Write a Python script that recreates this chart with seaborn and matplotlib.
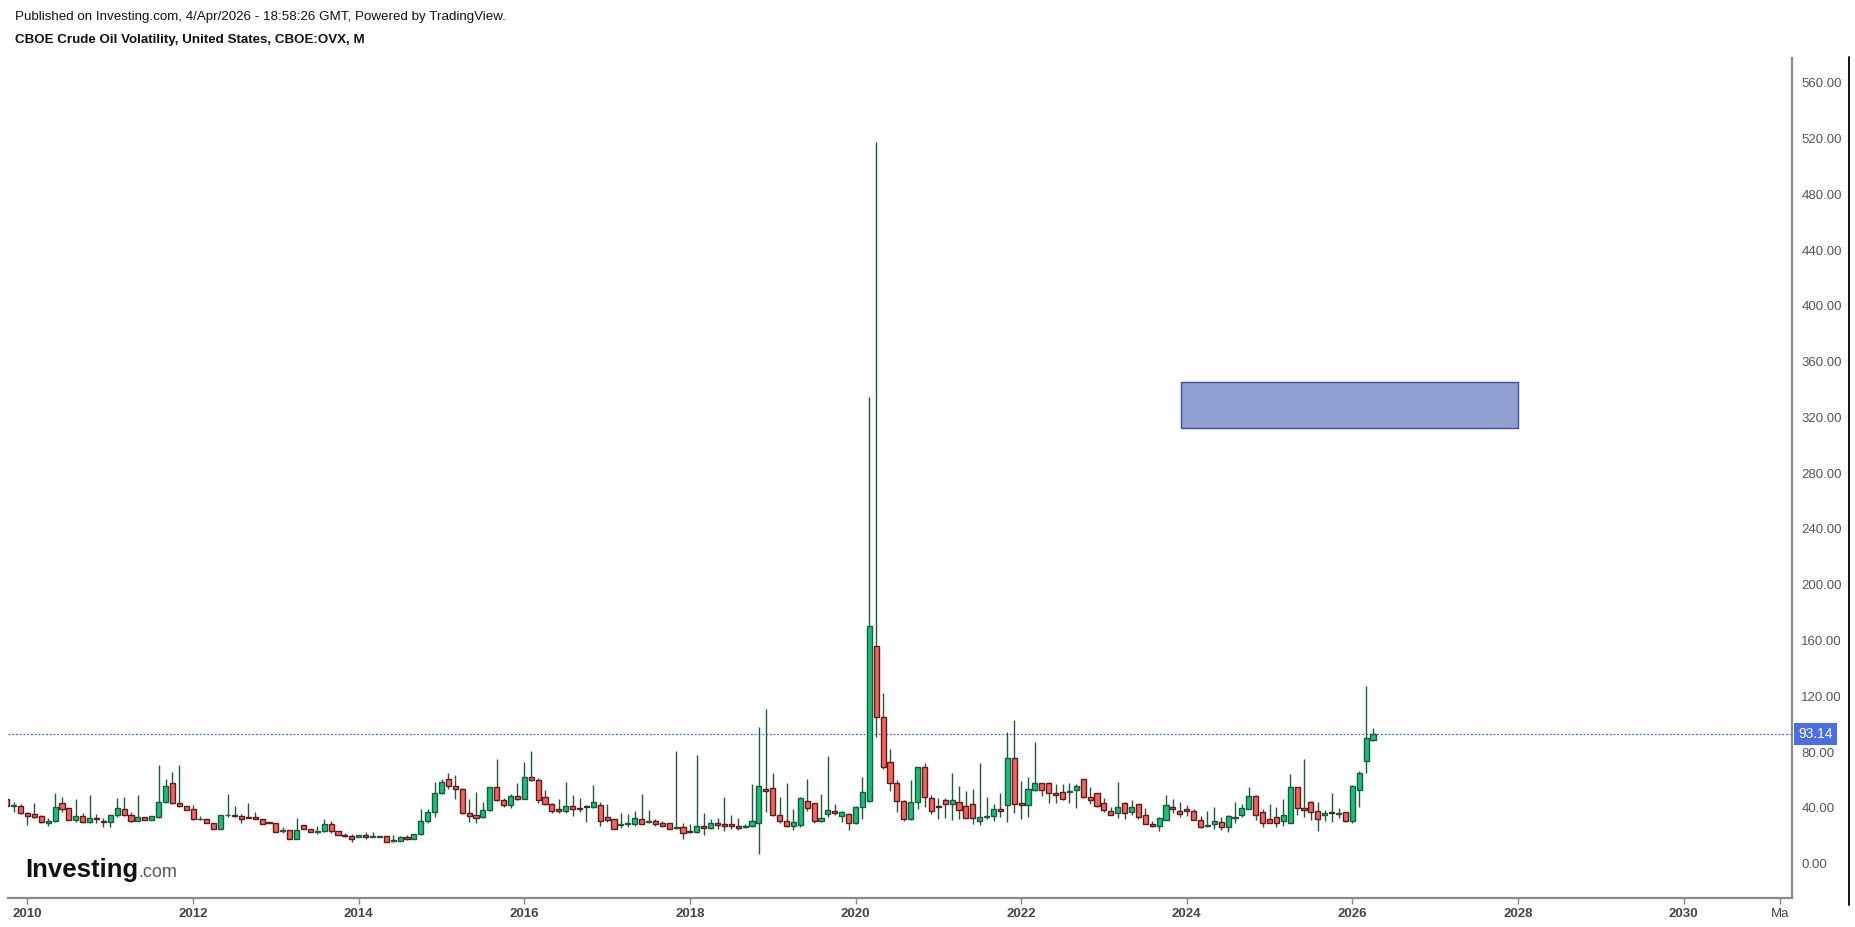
import numpy as np
import pandas as pd
import matplotlib
matplotlib.use("Agg")
import matplotlib.pyplot as plt
import seaborn as sns
from matplotlib.lines import Line2D
from matplotlib.patches import Rectangle

# ---------------- data (monthly OVX candles, Oct 2009 .. Apr 2026) ----------------
start_month = "2009-10-01"
opens = [46.1, 41.3, 41.3, 36.5, 35.3, 34.1, 29.2, 30.8, 43.2, 39.6,
         31.3, 34.1, 29.6, 32.5, 30.8, 29.9, 35.1, 38.9, 35.1, 30.6,
         33.2, 31.5, 33.2, 44.2, 57.6, 43.2, 41.6, 38.9, 31.8, 32.2,
         28.9, 25.1, 34.6, 35.1, 34.1, 33.2, 33.2, 32.2, 29.9, 28.9,
         23.4, 24.1, 17.9, 28.0, 24.6, 22.9, 23.4, 28.2, 23.6, 20.5,
         19.8, 18.9, 20.8, 19.1, 19.1, 19.8, 16.5, 16.5, 18.9, 17.4,
         21.5, 30.6, 36.8, 50.4, 60.4, 55.7, 53.3, 36.1, 35.1, 33.2,
         38.5, 54.7, 45.6, 42.3, 48.5, 46.6, 61.9, 60.2, 47.5, 42.5,
         38.9, 37.7, 41.3, 39.9, 41.6, 40.9, 42.3, 33.2, 31.8, 27.7,
         28.2, 28.7, 31.8, 29.9, 30.6, 28.9, 28.9, 25.6, 26.3, 23.4,
         22.7, 27.2, 25.3, 28.9, 28.2, 28.2, 27.2, 26.3, 27.0, 28.9,
         53.3, 54.0, 35.1, 30.8, 27.0, 27.5, 45.2, 43.3, 30.8, 35.8,
         38.0, 34.2, 35.3, 28.9, 40.6, 45.2, 156.3, 105.4, 72.9, 57.6,
         44.9, 32.0, 44.0, 69.1, 46.9, 41.4, 45.7, 42.6, 44.0, 41.4,
         42.6, 30.4, 33.7, 34.2, 39.0, 42.1, 75.5, 43.3, 42.1, 52.8,
         57.6, 57.6, 50.4, 51.4, 51.4, 52.8, 60.5, 47.6, 50.4, 43.3,
         38.0, 36.6, 43.3, 36.8, 42.6, 35.1, 28.2, 27.0, 31.5, 40.6,
         37.8, 39.0, 38.0, 31.5, 27.0, 28.7, 29.6, 26.5, 33.0, 35.1,
         39.4, 48.7, 37.0, 31.8, 33.4, 30.3, 29.4, 55.2, 39.9, 44.0,
         37.8, 35.1, 37.0, 35.6, 36.8, 30.3, 53.0, 73.4, 88.7]
highs = [46.1, 44.4, 42.5, 37.3, 43.2, 35.1, 32.5, 50.4, 48.0, 39.6,
         46.1, 36.1, 49.2, 35.6, 32.5, 35.6, 46.8, 48.0, 37.3, 49.2,
         33.2, 34.1, 70.7, 60.4, 65.9, 70.7, 41.6, 42.0, 34.1, 32.2,
         28.9, 35.1, 49.9, 41.3, 35.6, 43.7, 37.3, 32.2, 29.9, 28.9,
         26.5, 24.1, 32.5, 28.0, 24.6, 27.0, 31.8, 30.8, 23.6, 22.2,
         21.2, 20.8, 22.9, 22.9, 19.8, 19.8, 20.5, 19.8, 20.5, 21.5,
         38.9, 38.9, 58.8, 60.4, 64.7, 63.5, 54.0, 46.1, 51.6, 44.4,
         55.2, 74.8, 46.8, 49.9, 57.6, 73.1, 81.0, 61.1, 52.8, 43.2,
         46.1, 58.8, 49.2, 46.8, 42.0, 56.4, 44.4, 42.8, 31.8, 36.1,
         35.3, 38.0, 49.7, 38.5, 31.8, 30.8, 28.9, 81.0, 28.9, 28.4,
         77.7, 36.1, 31.8, 32.7, 48.0, 34.6, 32.5, 28.4, 57.1, 98.2,
         110.6, 64.8, 48.0, 57.6, 39.0, 48.0, 60.7, 43.7, 49.7, 77.4,
         42.8, 37.8, 36.1, 41.3, 62.4, 335.0, 517.5, 122.1, 82.2, 60.0,
         45.7, 60.0, 69.6, 71.9, 49.2, 46.9, 46.9, 65.3, 55.7, 52.1,
         53.3, 72.4, 48.0, 42.8, 50.9, 94.7, 103.0, 59.5, 62.4, 87.5,
         58.1, 58.6, 57.1, 57.1, 57.6, 57.1, 60.5, 55.2, 50.9, 46.9,
         40.9, 58.8, 44.5, 45.7, 42.8, 39.7, 30.8, 33.2, 49.2, 46.4,
         44.4, 41.8, 39.0, 34.2, 38.0, 40.9, 33.2, 34.9, 44.4, 42.8,
         55.2, 49.2, 39.0, 42.8, 40.9, 46.4, 64.0, 55.2, 74.8, 45.2,
         44.4, 38.5, 50.4, 39.7, 37.3, 56.4, 66.4, 127.4, 97.0]
lows = [41.3, 37.3, 35.3, 27.7, 32.5, 29.4, 27.0, 30.1, 37.3, 31.3,
        30.1, 28.9, 29.4, 29.4, 26.0, 26.5, 33.7, 34.1, 30.1, 30.6,
        31.5, 31.5, 32.5, 43.2, 42.8, 40.9, 38.5, 31.3, 31.3, 28.9,
        25.1, 25.1, 33.7, 33.7, 28.9, 32.5, 31.8, 28.4, 29.4, 22.4,
        21.7, 17.9, 17.9, 24.5, 22.7, 21.0, 22.9, 21.7, 20.8, 18.9,
        15.3, 18.9, 17.6, 18.9, 19.1, 15.5, 15.5, 16.0, 16.9, 17.4,
        20.5, 29.4, 33.7, 49.9, 53.3, 46.1, 35.6, 30.1, 29.4, 32.5,
        38.0, 45.2, 40.9, 39.9, 45.6, 46.1, 59.5, 43.7, 42.0, 36.5,
        36.5, 36.1, 34.1, 37.3, 30.1, 40.1, 27.2, 30.1, 25.1, 25.3,
        26.5, 27.2, 28.2, 29.4, 27.0, 26.0, 25.1, 25.1, 17.9, 21.7,
        22.2, 20.3, 24.8, 24.6, 23.6, 24.8, 24.1, 25.3, 26.5, 6.9,
        37.3, 34.2, 29.4, 26.0, 24.1, 26.5, 37.8, 29.4, 30.1, 33.7,
        35.1, 30.1, 24.1, 28.4, 32.0, 44.0, 91.1, 67.9, 52.4, 37.3,
        30.8, 31.3, 39.0, 40.9, 35.6, 31.8, 32.5, 31.3, 31.8, 32.5,
        28.5, 27.5, 31.8, 30.8, 33.7, 30.1, 36.6, 31.8, 33.7, 52.3,
        48.5, 43.7, 43.7, 45.7, 43.7, 40.2, 46.9, 42.8, 40.9, 37.3,
        34.7, 33.0, 31.8, 34.9, 31.8, 28.2, 26.5, 23.6, 31.1, 36.6,
        33.2, 34.2, 31.1, 25.6, 26.5, 24.8, 24.1, 22.9, 29.4, 33.2,
        39.0, 31.3, 26.5, 28.9, 26.5, 27.2, 29.4, 34.9, 33.2, 31.3,
        23.6, 30.8, 30.1, 32.5, 30.1, 29.4, 40.9, 65.2, 88.2]
closes = [41.3, 41.8, 36.1, 34.1, 33.2, 29.6, 30.8, 40.4, 39.4, 31.3,
          34.1, 29.6, 32.5, 32.0, 29.9, 35.1, 39.6, 35.1, 30.6, 33.2,
          31.5, 34.1, 44.2, 55.9, 43.2, 41.3, 38.5, 32.0, 32.2, 28.9,
          25.1, 35.1, 35.1, 33.9, 31.8, 32.7, 32.2, 28.4, 29.4, 22.4,
          23.9, 17.9, 24.1, 24.5, 22.7, 23.4, 28.2, 23.4, 20.8, 20.0,
          17.9, 20.8, 18.9, 19.5, 19.8, 15.5, 16.9, 18.9, 17.4, 21.5,
          30.8, 36.8, 50.4, 58.3, 55.7, 53.7, 36.1, 34.1, 32.5, 38.5,
          54.7, 45.6, 42.3, 48.5, 46.6, 61.9, 60.2, 45.6, 42.5, 37.5,
          38.0, 41.3, 39.4, 39.2, 40.9, 44.2, 30.6, 31.3, 25.1, 28.2,
          28.9, 32.5, 28.7, 30.6, 28.7, 27.0, 25.1, 26.3, 21.7, 22.4,
          27.2, 25.6, 28.9, 28.0, 27.2, 27.2, 25.3, 27.0, 30.8, 55.7,
          52.3, 34.9, 30.3, 26.8, 29.6, 46.8, 39.7, 30.6, 32.5, 38.7,
          36.1, 36.8, 28.9, 40.6, 51.1, 170.7, 104.9, 69.1, 57.6, 44.9,
          32.0, 44.0, 69.1, 47.6, 37.8, 40.4, 42.6, 45.7, 38.5, 33.0,
          33.0, 33.2, 34.4, 39.0, 37.8, 75.5, 42.8, 42.1, 53.3, 57.6,
          52.8, 50.4, 49.2, 46.6, 52.3, 55.7, 47.6, 45.7, 41.4, 38.5,
          35.1, 40.4, 36.1, 40.4, 33.2, 28.7, 27.0, 32.5, 42.3, 39.4,
          35.8, 37.8, 31.5, 26.0, 28.0, 30.6, 26.5, 34.2, 33.7, 39.7,
          48.7, 34.9, 29.4, 29.4, 29.4, 35.1, 55.2, 40.2, 38.5, 36.8,
          32.0, 36.1, 36.1, 36.3, 30.6, 55.7, 64.8, 89.9, 93.14]

last_price = 93.14
zone_years = [2023.93, 2028.0]
zone_values = [312.3, 345.3]

year_ticks = [2010, 2012, 2014, 2016, 2018, 2020, 2022, 2024, 2026, 2028, 2030]
extra_tick = (2031 + 2 / 12, "Ma")
price_ticks = list(range(0, 561, 40))

title_line1 = "Published on Investing.com, 4/Apr/2026 - 18:58:26 GMT, Powered by TradingView."
title_line2 = "CBOE Crude Oil Volatility, United States, CBOE:OVX, M"

# ---------------- frame ----------------
dates = pd.date_range(start_month, periods=len(opens), freq="MS")
df = pd.DataFrame({"date": dates, "open": opens, "high": highs, "low": lows, "close": closes})
df["x"] = df["date"].dt.year + (df["date"].dt.month - 1) / 12.0
df["up"] = df["close"] >= df["open"]
df["body_lo"] = df[["open", "close"]].min(axis=1)
df["body_h"] = (df["close"] - df["open"]).abs()

sns.set_theme(style="white")
plt.rcParams["font.family"] = ["Liberation Sans", "DejaVu Sans"]

fig = plt.figure(figsize=(18.55, 9.27), dpi=100)
fig.patch.set_facecolor("white")
ax = fig.add_axes([8 / 1855, 1 - 898.3 / 927, (1791.7 - 8) / 1855, (898.3 - 58) / 927])
ax.set_facecolor("white")

green_fill, green_edge = "#14c27c", "#1b5a3a"
red_fill, red_edge = "#f4645c", "#5e1b1b"
wick_col = "#1f5a3c"

# wicks
ax.vlines(df["x"], df["low"], df["high"], color=wick_col, linewidth=1.0, zorder=2)

# bodies
w = 0.062
for up, fc, ec in [(True, green_fill, green_edge), (False, red_fill, red_edge)]:
    sub = df[df["up"] == up]
    ax.bar(sub["x"], sub["body_h"], bottom=sub["body_lo"], width=w,
           color=fc, edgecolor=ec, linewidth=1.0, zorder=3)

# last price line
ax.axhline(last_price, color="#3d66e0", linestyle=(0, (1.5, 1.5)), linewidth=0.9, zorder=1)

# zone rectangle
ax.add_patch(Rectangle((zone_years[0], zone_values[0]), zone_years[1] - zone_years[0],
                       zone_values[1] - zone_values[0], facecolor="#8f9fd0",
                       edgecolor="#3a4fa8", linewidth=1.0, zorder=1))

# axes limits / ticks
ax.set_xlim(2010 + (-2.826) / 12, 2010 + 255.68 / 12)
ax.set_ylim(-24.9, 577.8)

ax.yaxis.tick_right()
ax.set_yticks(price_ticks)
ax.set_yticklabels([f"{v:.2f}" for v in price_ticks])
ax.tick_params(axis="y", which="both", direction="out", length=4, width=1,
               color="#888888", labelcolor="#555555", labelsize=9.5, pad=3,
               right=True, left=False)

ax.set_xticks(year_ticks + [extra_tick[0]])
ax.set_xticklabels([str(y) for y in year_ticks] + [extra_tick[1]])
ax.tick_params(axis="x", which="both", direction="out", length=4, width=1,
               color="#888888", labelcolor="#444444", labelsize=9.5, pad=3, bottom=True)
for lbl in ax.get_xticklabels()[:-1]:
    lbl.set_fontweight("bold")

ax.grid(False)
sns.despine(ax=ax, left=True, top=True, right=False, bottom=False)
for s in ["right", "bottom"]:
    ax.spines[s].set_color("#8a8a8a")
    ax.spines[s].set_linewidth(1.6)

# price label on the axis
ax.annotate(f"{last_price:.2f}", xy=(1.0, last_price), xycoords=("axes fraction", "data"),
            xytext=(5, 0), textcoords="offset points", ha="left", va="center",
            color="white", fontsize=10,
            bbox=dict(boxstyle="square,pad=0.3", facecolor="#4a6fe3", edgecolor="none"),
            zorder=10, annotation_clip=False)

# right border line
fig.add_artist(Line2D([1848.5 / 1855] * 2, [1 - 57 / 927, 1 - 905 / 927],
                      color="black", linewidth=1.3))

# headers
fig.text(15 / 1855, 1 - 16.6 / 927, title_line1, ha="left", va="center",
         fontsize=9.6, color="#111111")
fig.text(15 / 1855, 1 - 40 / 927, title_line2, ha="left", va="center",
         fontsize=9.6, fontweight="bold", color="#111111")

# logo
fig.text(25 / 1855, 1 - 877.3 / 927, "Investing", ha="left", va="baseline",
         fontsize=18.5, fontweight="bold", color="#111111")
fig.text(138 / 1855, 1 - 877.3 / 927, ".com", ha="left", va="baseline",
         fontsize=13, color="#555555")

fig.savefig("out.png", dpi=100, facecolor="white")
